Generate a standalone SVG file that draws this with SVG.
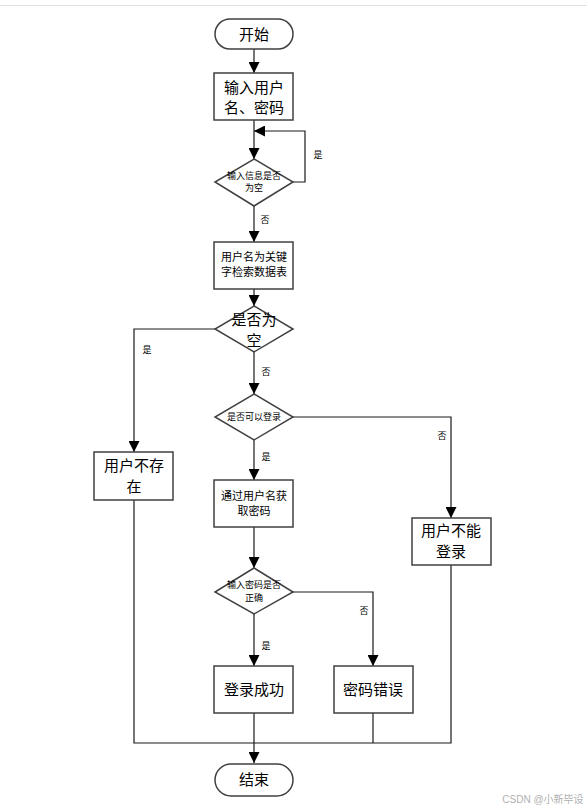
<svg xmlns="http://www.w3.org/2000/svg" width="587" height="810" viewBox="0 0 587 810">
<defs>
<marker id="ah" viewBox="0 0 10 10" refX="10" refY="5" markerWidth="11" markerHeight="11" markerUnits="userSpaceOnUse" orient="auto">
<path d="M0,0 L10,5 L0,10 Z" fill="#000"/>
</marker>
</defs>
<style>
.n{fill:#fff;stroke:#404040;stroke-width:1.5}
.c{fill:none;stroke:#1a1a1a;stroke-width:1.2}
.a{marker-end:url(#ah)}
text{font-family:"Liberation Sans","Noto Sans CJK SC",sans-serif;fill:#000;text-anchor:middle}
.big{font-size:15px}
.mid{font-size:11px}
.sm{font-size:9px}
.lb{font-size:9px}
</style>
<rect width="587" height="810" fill="#fff"/>
<line x1="0" y1="5.5" x2="587" y2="5.5" stroke="#e0e0e0" stroke-width="1"/>
<g id="connectors">
<path class="c a" d="M254,49 V73"/>
<path class="c a" d="M254,120 V159"/>
<path class="c a" d="M293,182 H305 V131 H254"/>
<path class="c a" d="M254,206 V242"/>
<path class="c a" d="M254,289 V306"/>
<path class="c a" d="M215,329 H134 V452"/>
<path class="c a" d="M254,352 V394"/>
<path class="c a" d="M293,417 H451 V518"/>
<path class="c a" d="M254,440 V480"/>
<path class="c a" d="M254,527 V568"/>
<path class="c a" d="M293,592 H373 V666"/>
<path class="c a" d="M254,614 V666"/>
<path class="c a" d="M254,713 V763"/>
<path class="c" d="M134,500 V743 H451 V565"/>
<path class="c" d="M373,713 V743"/>
<text class="lb" x="318" y="158">是</text>
<text class="lb" x="265" y="223">否</text>
<text class="lb" x="147" y="353">是</text>
<text class="lb" x="266" y="375">否</text>
<text class="lb" x="442" y="439">否</text>
<text class="lb" x="266" y="460">是</text>
<text class="lb" x="364" y="614">否</text>
<text class="lb" x="266" y="649">是</text>
</g>
<g id="start">
<rect class="n" x="215" y="19" width="78" height="30" rx="15"/>
<text class="big" x="254" y="39.5">开始</text>
</g>
<g id="input">
<rect class="n" x="214" y="73" width="79" height="47"/>
<text class="big" x="254" y="93">输入用户</text>
<text class="big" x="254" y="113">名、密码</text>
</g>
<g id="check-empty">
<polygon class="n" points="254,159 293,182 254,206 215,182"/>
<text class="sm" x="254" y="179">输入信息是否</text>
<text class="sm" x="254" y="191">为空</text>
</g>
<g id="search">
<rect class="n" x="214" y="242" width="79" height="47"/>
<text class="mid" x="254" y="261">用户名为关键</text>
<text class="mid" x="254" y="276">字检索数据表</text>
</g>
<g id="is-empty">
<polygon class="n" points="254,306 293,329 254,352 215,329"/>
<text class="big" x="254" y="325">是否为</text>
<text class="big" x="254" y="346">空</text>
</g>
<g id="can-login">
<polygon class="n" points="254,394 293,417 254,440 215,417"/>
<text class="sm" x="254" y="420">是否可以登录</text>
</g>
<g id="not-exist">
<rect class="n" x="94" y="452" width="79" height="48"/>
<text class="big" x="134" y="471">用户不存</text>
<text class="big" x="134" y="492">在</text>
</g>
<g id="get-password">
<rect class="n" x="214" y="480" width="79" height="47"/>
<text class="mid" x="254" y="500">通过用户名获</text>
<text class="mid" x="254" y="515">取密码</text>
</g>
<g id="cannot-login">
<rect class="n" x="412" y="518" width="79" height="47"/>
<text class="big" x="451" y="536">用户不能</text>
<text class="big" x="451" y="557">登录</text>
</g>
<g id="check-password">
<polygon class="n" points="254,568 293,592 254,614 215,592"/>
<text class="sm" x="254" y="588">输入密码是否</text>
<text class="sm" x="254" y="601">正确</text>
</g>
<g id="success">
<rect class="n" x="214" y="666" width="79" height="47"/>
<text class="big" x="254" y="695">登录成功</text>
</g>
<g id="wrong-password">
<rect class="n" x="334" y="666" width="79" height="47"/>
<text class="big" x="373" y="695">密码错误</text>
</g>
<g id="end">
<rect class="n" x="215" y="764" width="78" height="32" rx="16"/>
<text class="big" x="254" y="785">结束</text>
</g>
<text x="543" y="803" style="font-size:10px;fill:#b0b0b0">CSDN @小新毕设</text>
</svg>
